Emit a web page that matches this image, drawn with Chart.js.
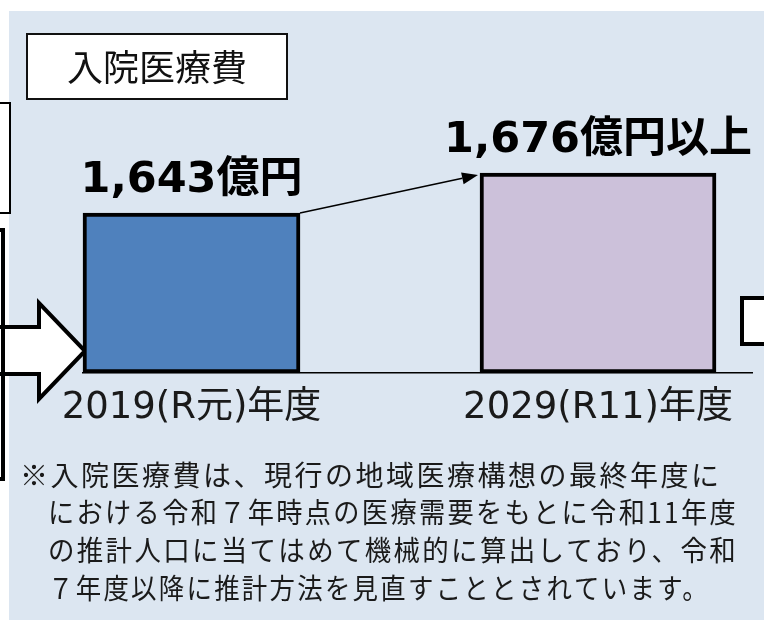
<!DOCTYPE html>
<html>
<head>
<meta charset="utf-8">
<script src="https://cdn.jsdelivr.net/npm/chart.js@4"></script>
<style>
  html, body { margin: 0; padding: 0; background: #fff; }
  canvas { display: block; }
</style>
</head>
<body>
<canvas id="chart" width="764" height="620"></canvas>
<script>
// data
const categories = ['2019(R元)年度', '2029(R11)年度'];
const costValues = [1643, 1676];
const valueSuffixes = ['億円', '億円以上'];
const titleText = '入院医療費';
const footnoteLines = [
    '※入院医療費は、現行の地域医療構想の最終年度に',
    'における令和７年時点の医療需要をもとに令和11年度',
    'の推計人口に当てはめて機械的に算出しており、令和',
    '７年度以降に推計方法を見直すこととされています。'
];

// axis range (conceptual chart: bars start from a cut baseline)
const yMin = 1511;
const yMax = 1676;

// styles
const barColors = ['#4f81bd', '#ccc1da'];
const barWidths = [217, 236];
const panelColor = '#dce6f1';
const jpFont = '"Noto Sans CJK JP", sans-serif';
const numFont = '"DejaVu Sans", "Noto Sans CJK JP", sans-serif';

const data = {
    datasets: categories.map((c, i) => ({
        label: c,
        data: [{ x: i, y: costValues[i] }],
        base: yMin,
        backgroundColor: barColors[i],
        borderColor: '#000',
        borderWidth: 4,
        borderSkipped: false,
        barThickness: barWidths[i],
        grouped: false,
        clip: false
    }))
};

// background shapes (panel, title box, side boxes, block arrow)
const decor = {
    id: 'decor',
    beforeDraw(chart) {
        const { ctx, width, height } = chart;
        ctx.save();
        ctx.fillStyle = '#fff';
        ctx.fillRect(0, 0, width, height);
        ctx.fillStyle = panelColor;
        ctx.fillRect(9, 11, width - 9, height - 11);

        // title box
        ctx.fillStyle = '#fff';
        ctx.fillRect(27, 34, 260, 65);
        ctx.strokeStyle = '#111';
        ctx.lineWidth = 2;
        ctx.strokeRect(27, 34, 260, 65);
        ctx.fillStyle = '#111';
        ctx.font = '36px ' + jpFont;
        ctx.textAlign = 'center';
        ctx.textBaseline = 'middle';
        ctx.fillText(titleText, 157, 67);

        // boxes cut by the left edge
        ctx.fillStyle = '#fff';
        ctx.fillRect(-10, 103, 20, 110);
        ctx.lineWidth = 2;
        ctx.strokeStyle = '#000';
        ctx.strokeRect(-10, 103, 20, 110);

        // block arrow
        ctx.beginPath();
        ctx.moveTo(-5, 327);
        ctx.lineTo(39, 327);
        ctx.lineTo(39, 303);
        ctx.lineTo(85, 351);
        ctx.lineTo(39, 399);
        ctx.lineTo(39, 374);
        ctx.lineTo(-5, 374);
        ctx.closePath();
        ctx.fillStyle = '#fff';
        ctx.fill();
        ctx.lineWidth = 4;
        ctx.lineJoin = 'miter';
        ctx.stroke();

        ctx.lineWidth = 4;
        ctx.strokeRect(-10, 230, 13, 249);

        // box on the right edge
        ctx.fillStyle = '#fff';
        ctx.fillRect(742, 298, 40, 46);
        ctx.strokeRect(742, 298, 40, 46);
        ctx.restore();
    },
    afterDatasetsDraw(chart) {
        const { ctx } = chart;
        const bars = chart.data.datasets.map((d, i) => chart.getDatasetMeta(i).data[0]);
        ctx.save();
        // value labels
        ctx.fillStyle = '#000';
        ctx.font = 'bold 43px ' + numFont;
        ctx.textAlign = 'center';
        ctx.textBaseline = 'middle';
        bars.forEach((bar, i) => {
            const txt = costValues[i].toLocaleString('en-US') + valueSuffixes[i];
            ctx.fillText(txt, bar.x, bar.y - 32);
        });

        // connector arrow from bar 1 to bar 2
        const b1 = bars[0], b2 = bars[1];
        const x1 = b1.x + b1.width / 2, y1 = b1.y;
        const x2 = b2.x - b2.width / 2 - 2, y2 = b2.y + 2;
        const ang = Math.atan2(y2 - y1, x2 - x1);
        const head = 16, half = 6;
        ctx.strokeStyle = '#000';
        ctx.lineWidth = 1.5;
        ctx.beginPath();
        ctx.moveTo(x1, y1);
        ctx.lineTo(x2 - head * Math.cos(ang), y2 - head * Math.sin(ang));
        ctx.stroke();
        ctx.beginPath();
        ctx.moveTo(x2, y2);
        ctx.lineTo(x2 - head * Math.cos(ang) + half * Math.sin(ang), y2 - head * Math.sin(ang) - half * Math.cos(ang));
        ctx.lineTo(x2 - head * Math.cos(ang) - half * Math.sin(ang), y2 - head * Math.sin(ang) + half * Math.cos(ang));
        ctx.closePath();
        ctx.fillStyle = '#000';
        ctx.fill();
        ctx.restore();
    },
    afterDraw(chart) {
        const { ctx } = chart;
        ctx.save();
        ctx.fillStyle = '#1a1a1a';
        ctx.font = '28px ' + jpFont;
        ctx.textAlign = 'left';
        ctx.textBaseline = 'middle';
        ctx.letterSpacing = '2.5px';
        footnoteLines.forEach((line, i) => {
            const x = i === 0 ? 20 : 48;
            const maxW = i === 3 ? 662 : 738 - x;
            ctx.fillText(line, x, 475 + i * 37.7, maxW);
        });
        ctx.restore();
    }
};

const config = {
    type: 'bar',
    data,
    options: {
        responsive: false,
        animation: false,
        layout: {
            padding: { top: 173, right: 12, bottom: 176.6, left: 83 }
        },
        plugins: {
            legend: { display: false },
            tooltip: { enabled: false }
        },
        scales: {
            x: {
                type: 'linear',
                offset: false,
                min: -0.2669,
                max: 1.3788,
                grid: { display: false, drawTicks: false },
                border: { display: true, color: '#000', width: 1.5 },
                afterBuildTicks: (scale) => {
                    scale.ticks = categories.map((c, i) => ({ value: i }));
                },
                ticks: {
                    padding: 13,
                    maxRotation: 0,
                    autoSkip: false,
                    color: '#1a1a1a',
                    font: { family: numFont, size: 37 },
                    callback: (value) => categories[value]
                }
            },
            y: {
                display: false,
                beginAtZero: false,
                min: yMin,
                max: yMax
            }
        }
    },
    plugins: [decor]
};

var chart = document.getElementById('chart');
var myChart = new Chart(chart, config);
</script>
</body>
</html>
